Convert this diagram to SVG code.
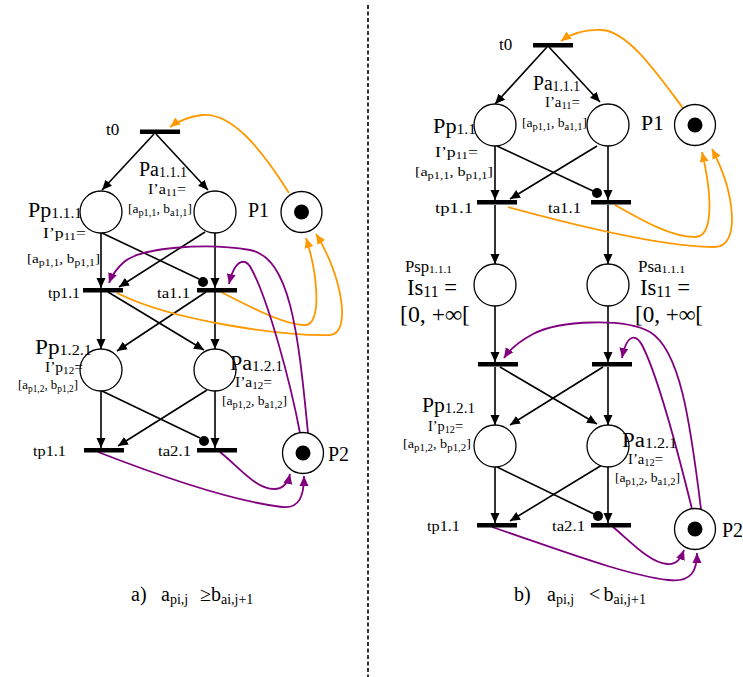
<svg xmlns="http://www.w3.org/2000/svg" width="743" height="677" viewBox="0 0 743 677">
<style>
text{font-family:"Liberation Serif","Times New Roman",serif;fill:#000}
.L{font-size:20px}
.M{font-size:14px}
.B{font-size:13px}
.T{font-size:15px}
.T0{font-size:17px}
.s14{font-size:14px}
.s10{font-size:10px}
.s9{font-size:9.5px}
.cap{font-size:20px}
.csub{font-size:14px}
circle.pl{fill:#fff;stroke:#000;stroke-width:1.3}
circle.tok{fill:#000}
rect.tr{fill:#000}
.arc{fill:none;stroke:#000;stroke-width:1.6}
.or{fill:none;stroke:#FF9900;stroke-width:1.8}
.pu{fill:none;stroke:#800080;stroke-width:1.8}
.dot{fill:#000}
.div{stroke:#000;stroke-width:1.6;stroke-dasharray:4 2.5}
</style>
<defs>
<marker id="ab" viewBox="0 0 10 10" refX="10" refY="5" markerWidth="10" markerHeight="10" markerUnits="userSpaceOnUse" orient="auto"><path d="M0,0.5 L10,5 L0,9.5 z" fill="#000"/></marker>
<marker id="ao" viewBox="0 0 10 10" refX="10" refY="5" markerWidth="10" markerHeight="10" markerUnits="userSpaceOnUse" orient="auto"><path d="M0,0.5 L10,5 L0,9.5 z" fill="#FF9900"/></marker>
<marker id="ap" viewBox="0 0 10 10" refX="10" refY="5" markerWidth="10" markerHeight="10" markerUnits="userSpaceOnUse" orient="auto"><path d="M0,0.5 L10,5 L0,9.5 z" fill="#800080"/></marker>
</defs>
<rect width="743" height="677" fill="#fff"/>
<line class="div" x1="368" y1="5" x2="368" y2="677"/>

<g id="connectors">
  <!-- left black arcs -->
  <path class="arc" marker-end="url(#ab)" d="M154,134 L102,190"/>
  <path class="arc" marker-end="url(#ab)" d="M156,134 L208,190"/>
  <path class="arc" marker-end="url(#ab)" d="M101,233 L101,288"/>
  <path class="arc" d="M102,233 L199,279"/>
  <circle class="dot" cx="203" cy="282" r="5"/>
  <path class="arc" marker-end="url(#ab)" d="M205,232 L119,287"/>
  <path class="arc" marker-end="url(#ab)" d="M215,233 L215,288"/>
  <path class="arc" marker-end="url(#ab)" d="M101,292 L101,349"/>
  <path class="arc" marker-end="url(#ab)" d="M108,292 L204,350"/>
  <path class="arc" marker-end="url(#ab)" d="M206,292 L117,351"/>
  <path class="arc" marker-end="url(#ab)" d="M215,292 L215,349"/>
  <path class="arc" marker-end="url(#ab)" d="M101,391 L101,448"/>
  <path class="arc" d="M102,391 L200,438"/>
  <circle class="dot" cx="204" cy="441" r="5"/>
  <path class="arc" marker-end="url(#ab)" d="M207,390 L118,446"/>
  <path class="arc" marker-end="url(#ab)" d="M215,391 L215,448"/>
  <!-- left orange -->
  <path class="or" marker-end="url(#ao)" d="M289,193 C262,150 232,112 202,115 C188,117 178,121 170,127"/>
  <path class="or" marker-end="url(#ao)" d="M221,292 C252,308 285,325 305,325 C322,325 318,275 306,238"/>
  <path class="or" marker-end="url(#ao)" d="M117,293 C175,322 285,336 330,335 C352,334 342,275 316,234"/>
  <!-- left purple -->
  <path class="pu" marker-end="url(#ap)" d="M308,433 C298,330 290,258 250,250 C205,242 140,248 124,262 C116,269 112,275 109,283"/>
  <path class="pu" marker-end="url(#ap)" d="M300,433 C290,380 268,300 252,270 C246,257 235,258 229,284"/>
  <path class="pu" marker-end="url(#ap)" d="M98,452 C170,480 240,502 282,507 C300,509 304,495 304,476"/>
  <path class="pu" marker-end="url(#ap)" d="M220,452 C240,468 256,489 274,489 C284,489 288,483 290,474"/>

  <!-- right black arcs -->
  <path class="arc" marker-end="url(#ab)" d="M547,47 L495,104"/>
  <path class="arc" marker-end="url(#ab)" d="M549,47 L600,102"/>
  <path class="arc" marker-end="url(#ab)" d="M495,146 L495,200"/>
  <path class="arc" d="M497,146 L593,191"/>
  <circle class="dot" cx="597" cy="193" r="5"/>
  <path class="arc" marker-end="url(#ab)" d="M597,146 L510,199"/>
  <path class="arc" marker-end="url(#ab)" d="M608,146 L608,200"/>
  <path class="arc" marker-end="url(#ab)" d="M495,205 L495,264"/>
  <path class="arc" marker-end="url(#ab)" d="M608,205 L608,264"/>
  <path class="arc" marker-end="url(#ab)" d="M495,306 L495,362"/>
  <path class="arc" marker-end="url(#ab)" d="M608,306 L608,362"/>
  <path class="arc" marker-end="url(#ab)" d="M495,367 L495,425"/>
  <path class="arc" marker-end="url(#ab)" d="M500,367 L597,424"/>
  <path class="arc" marker-end="url(#ab)" d="M603,367 L510,425"/>
  <path class="arc" marker-end="url(#ab)" d="M608,367 L608,425"/>
  <path class="arc" marker-end="url(#ab)" d="M495,467 L495,523"/>
  <path class="arc" d="M497,467 L594,514"/>
  <circle class="dot" cx="598" cy="516" r="5"/>
  <path class="arc" marker-end="url(#ab)" d="M602,465 L510,521"/>
  <path class="arc" marker-end="url(#ab)" d="M608,467 L608,523"/>
  <!-- right orange -->
  <path class="or" marker-end="url(#ao)" d="M683,108 C660,78 630,32 602,30 C585,29 572,33 561,41"/>
  <path class="or" marker-end="url(#ao)" d="M615,205 C645,222 672,237 695,237 C714,237 712,195 702,152"/>
  <path class="or" marker-end="url(#ao)" d="M508,207 C585,228 665,247 715,247 C740,247 736,195 712,149"/>
  <!-- right purple -->
  <path class="pu" marker-end="url(#ap)" d="M701,509 C690,420 680,350 650,332 C625,318 560,320 533,334 C520,341 510,349 504,358"/>
  <path class="pu" marker-end="url(#ap)" d="M692,509 C675,440 655,370 642,345 C636,334 627,333 622,358"/>
  <path class="pu" marker-end="url(#ap)" d="M492,527 C560,550 625,575 668,580 C692,583 697,570 697,553"/>
  <path class="pu" marker-end="url(#ap)" d="M613,527 C630,541 650,563 667,564 C677,565 681,558 684,550"/>
</g>

<!-- LEFT NET -->
<g id="L_t0"><rect class="tr" x="140" y="129.5" width="40" height="4.5"/><text class="T0" x="106" y="135">t0</text></g>
<g id="L_Pp111"><circle class="pl" cx="101" cy="212" r="21"/>
<text class="L" x="28" y="217" textLength="54" lengthAdjust="spacingAndGlyphs">Pp<tspan class="s14" dy="1">1.1.1</tspan></text>
<text class="M" x="43" y="238" textLength="43" lengthAdjust="spacingAndGlyphs">I’p<tspan class="s10" dy="2">11</tspan><tspan dy="-2">=</tspan></text>
<text class="B" x="27" y="263" textLength="73" lengthAdjust="spacingAndGlyphs">[a<tspan class="s10" dy="3">p1,1</tspan><tspan dy="-3">, b</tspan><tspan class="s10" dy="3">p1,1</tspan><tspan dy="-3">]</tspan></text></g>
<g id="L_Pa111"><circle class="pl" cx="215" cy="212" r="21"/>
<text class="L" x="139" y="176" textLength="48" lengthAdjust="spacingAndGlyphs">Pa<tspan class="s14" dy="1">1.1.1</tspan></text>
<text class="M" x="148" y="194" textLength="38" lengthAdjust="spacingAndGlyphs">I’a<tspan class="s10" dy="2">11</tspan><tspan dy="-2">=</tspan></text>
<text class="B" x="128" y="213" textLength="64" lengthAdjust="spacingAndGlyphs">[a<tspan class="s10" dy="3">p1,1</tspan><tspan dy="-3">, b</tspan><tspan class="s10" dy="3">a1,1</tspan><tspan dy="-3">]</tspan></text></g>
<g id="L_P1"><circle class="pl" cx="301.5" cy="212" r="20.5"/><circle class="tok" cx="301.5" cy="212" r="7.5"/><text class="L" x="248" y="217">P1</text></g>
<g id="L_tp11"><rect class="tr" x="83" y="288" width="40" height="4.5"/><text class="T" x="48" y="298" textLength="32" lengthAdjust="spacingAndGlyphs">tp1.1</text></g>
<g id="L_ta11"><rect class="tr" x="197" y="288" width="40" height="4.5"/><text class="T" x="157" y="298" textLength="33" lengthAdjust="spacingAndGlyphs">ta1.1</text></g>
<g id="L_Pp121"><circle class="pl" cx="101" cy="370" r="21"/>
<text class="L" x="35" y="354" textLength="57" lengthAdjust="spacingAndGlyphs">Pp<tspan class="s14" dy="1">1.2.1</tspan></text>
<text class="M" x="45" y="372" textLength="38" lengthAdjust="spacingAndGlyphs">I’p<tspan class="s10" dy="2">12</tspan><tspan dy="-2">=</tspan></text>
<text class="B" x="18" y="389" textLength="60" lengthAdjust="spacingAndGlyphs">[a<tspan class="s9" dy="3">p1,2</tspan><tspan dy="-3">, b</tspan><tspan class="s9" dy="3">p1,2</tspan><tspan dy="-3">]</tspan></text></g>
<g id="L_Pa121"><circle class="pl" cx="215" cy="370" r="21"/>
<text class="L" x="230" y="370" textLength="53" lengthAdjust="spacingAndGlyphs">Pa<tspan class="s14" dy="1">1.2.1</tspan></text>
<text class="M" x="235" y="387" textLength="37" lengthAdjust="spacingAndGlyphs">I’a<tspan class="s10" dy="2">12</tspan><tspan dy="-2">=</tspan></text>
<text class="B" x="222" y="405" textLength="65" lengthAdjust="spacingAndGlyphs">[a<tspan class="s10" dy="3">p1,2</tspan><tspan dy="-3">, b</tspan><tspan class="s10" dy="3">a1,2</tspan><tspan dy="-3">]</tspan></text></g>
<g id="L_tp11b"><rect class="tr" x="84" y="448" width="40" height="4.5"/><text class="T" x="33" y="456" textLength="33" lengthAdjust="spacingAndGlyphs">tp1.1</text></g>
<g id="L_ta21"><rect class="tr" x="197" y="448" width="40" height="4.5"/><text class="T" x="158" y="456" textLength="33" lengthAdjust="spacingAndGlyphs">ta2.1</text></g>
<g id="L_P2"><circle class="pl" cx="303" cy="453" r="20.5"/><circle class="tok" cx="303" cy="453" r="7.5"/><text class="L" x="328" y="461">P2</text></g>

<!-- RIGHT NET -->
<g id="R_t0"><rect class="tr" x="533" y="43" width="40" height="4.5"/><text class="T0" x="499" y="50">t0</text></g>
<g id="R_Pp11"><circle class="pl" cx="495" cy="125" r="21"/>
<text class="L" x="433" y="133" textLength="43" lengthAdjust="spacingAndGlyphs">Pp<tspan class="s14" dy="1">1.1</tspan></text>
<text class="M" x="435" y="157" textLength="43" lengthAdjust="spacingAndGlyphs">I’p<tspan class="s10" dy="2">11</tspan><tspan dy="-2">=</tspan></text>
<text class="B" x="415" y="176" textLength="78" lengthAdjust="spacingAndGlyphs">[a<tspan class="s10" dy="3">p1,1</tspan><tspan dy="-3">, b</tspan><tspan class="s10" dy="3">p1,1</tspan><tspan dy="-3">]</tspan></text></g>
<g id="R_Pa111"><circle class="pl" cx="608" cy="125" r="21"/>
<text class="L" x="533" y="90" textLength="47" lengthAdjust="spacingAndGlyphs">Pa<tspan class="s14" dy="1">1.1.1</tspan></text>
<text class="M" x="545" y="107" textLength="35" lengthAdjust="spacingAndGlyphs">I’a<tspan class="s10" dy="2">11</tspan><tspan dy="-2">=</tspan></text>
<text class="B" x="522" y="127" textLength="65" lengthAdjust="spacingAndGlyphs">[a<tspan class="s10" dy="3">p1,1</tspan><tspan dy="-3">, b</tspan><tspan class="s10" dy="3">a1,1</tspan><tspan dy="-3">]</tspan></text></g>
<g id="R_P1"><circle class="pl" cx="695" cy="125" r="20.5"/><circle class="tok" cx="695" cy="125" r="7.5"/><text class="L" x="641" y="130" textLength="23" lengthAdjust="spacingAndGlyphs">P1</text></g>
<g id="R_tp11"><rect class="tr" x="477" y="200" width="40" height="4.5"/><text class="T" x="435" y="213" textLength="38" lengthAdjust="spacingAndGlyphs">tp1.1</text></g>
<g id="R_ta11"><rect class="tr" x="591" y="200" width="40" height="4.5"/><text class="T" x="548" y="213" textLength="33" lengthAdjust="spacingAndGlyphs">ta1.1</text></g>
<g id="R_Psp111"><circle class="pl" cx="495" cy="285" r="21"/>
<text style="font-size:16px" x="405" y="272" textLength="47" lengthAdjust="spacingAndGlyphs">Psp<tspan style="font-size:11px" dy="1">1.1.1</tspan></text>
<text style="font-size:23px" x="407" y="295" textLength="50" lengthAdjust="spacingAndGlyphs">Is<tspan style="font-size:16px" dy="2">11</tspan><tspan dy="-2"> =</tspan></text>
<text style="font-size:23px" x="400" y="322" textLength="70" lengthAdjust="spacingAndGlyphs">[0, +<tspan font-weight="bold">∞</tspan>[</text></g>
<g id="R_Psa111"><circle class="pl" cx="608" cy="285" r="21"/>
<text style="font-size:16px" x="638" y="272" textLength="47" lengthAdjust="spacingAndGlyphs">Psa<tspan style="font-size:11px" dy="1">1.1.1</tspan></text>
<text style="font-size:23px" x="640" y="295" textLength="50" lengthAdjust="spacingAndGlyphs">Is<tspan style="font-size:16px" dy="2">11</tspan><tspan dy="-2"> =</tspan></text>
<text style="font-size:23px" x="635" y="322" textLength="68" lengthAdjust="spacingAndGlyphs">[0, +<tspan font-weight="bold">∞</tspan>[</text></g>
<g id="R_tl"><rect class="tr" x="478" y="362" width="40" height="4.5"/></g>
<g id="R_tr"><rect class="tr" x="592" y="362" width="40" height="4.5"/></g>
<g id="R_Pp121"><circle class="pl" cx="495" cy="446" r="21"/>
<text class="L" x="422" y="412" textLength="53" lengthAdjust="spacingAndGlyphs">Pp<tspan class="s14" dy="1">1.2.1</tspan></text>
<text class="M" x="428" y="431" textLength="35" lengthAdjust="spacingAndGlyphs">I’p<tspan class="s10" dy="2">12</tspan><tspan dy="-2">=</tspan></text>
<text class="B" x="403" y="448" textLength="68" lengthAdjust="spacingAndGlyphs">[a<tspan class="s10" dy="3">p1,2</tspan><tspan dy="-3">, b</tspan><tspan class="s10" dy="3">p1,2</tspan><tspan dy="-3">]</tspan></text></g>
<g id="R_Pa121"><circle class="pl" cx="608" cy="446" r="21"/>
<text class="L" x="622" y="447" textLength="55" lengthAdjust="spacingAndGlyphs">Pa<tspan class="s14" dy="1">1.2.1</tspan></text>
<text class="M" x="628" y="464" textLength="35" lengthAdjust="spacingAndGlyphs">I’a<tspan class="s10" dy="2">12</tspan><tspan dy="-2">=</tspan></text>
<text class="B" x="615" y="482" textLength="65" lengthAdjust="spacingAndGlyphs">[a<tspan class="s10" dy="3">p1,2</tspan><tspan dy="-3">, b</tspan><tspan class="s10" dy="3">a1,2</tspan><tspan dy="-3">]</tspan></text></g>
<g id="R_tp11b"><rect class="tr" x="477" y="523" width="40" height="4.5"/><text class="T" x="427" y="531" textLength="33" lengthAdjust="spacingAndGlyphs">tp1.1</text></g>
<g id="R_ta21"><rect class="tr" x="591" y="523" width="40" height="4.5"/><text class="T" x="552" y="531" textLength="33" lengthAdjust="spacingAndGlyphs">ta2.1</text></g>
<g id="R_P2"><circle class="pl" cx="695" cy="529" r="20.5"/><circle class="tok" cx="695" cy="529" r="7.5"/><text class="L" x="722" y="537">P2</text></g>

<!-- captions -->
<g id="captions">
<text class="cap" x="131" y="601">a)<tspan x="161">a</tspan><tspan class="csub" dy="3">pi,j</tspan><tspan x="200" dy="-3">≥b</tspan><tspan class="csub" dy="3">ai,j+1</tspan></text>
<text class="cap" x="514" y="601">b)<tspan x="547">a</tspan><tspan class="csub" dy="3">pi,j</tspan><tspan x="589" dy="-3">&lt;</tspan><tspan x="603.5">b</tspan><tspan class="csub" dy="3">ai,j+1</tspan></text>
</g>
</svg>
